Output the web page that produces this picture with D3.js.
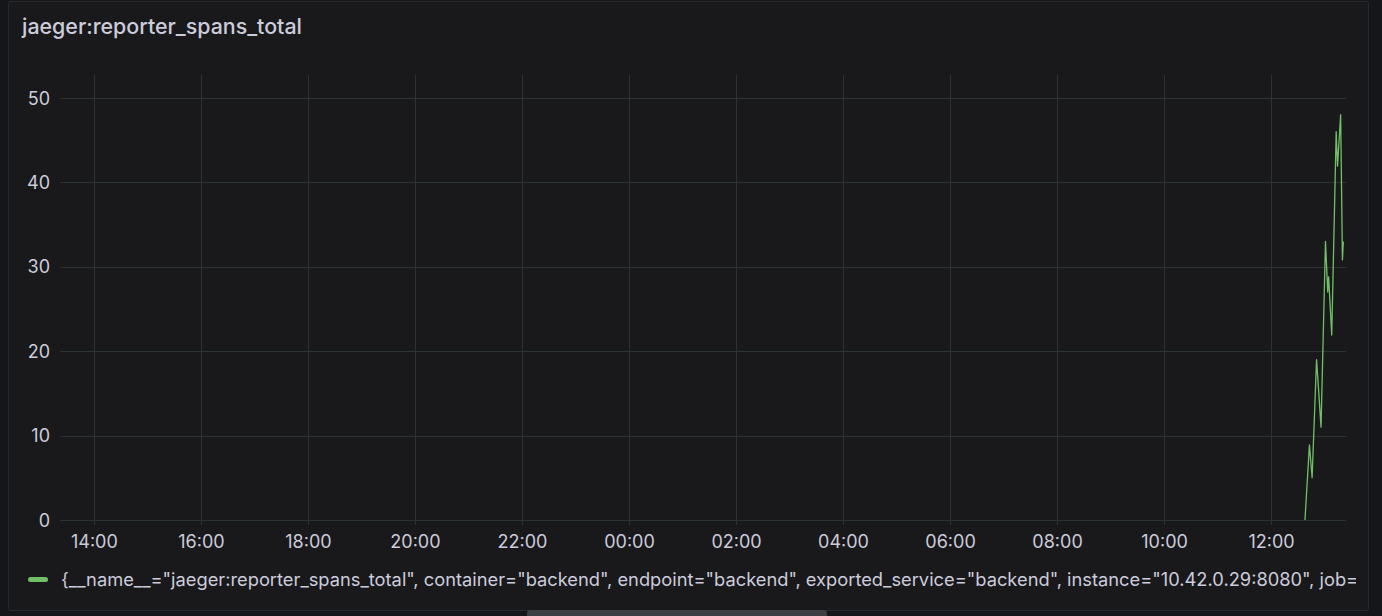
<!DOCTYPE html>
<html>
<head>
<meta charset="utf-8">
<script src="https://cdn.jsdelivr.net/npm/d3@7"></script>
<style>
  html, body { margin: 0; padding: 0; background: #141619; }
  svg { display: block; }
</style>
</head>
<body>
<svg id="chart" width="1382" height="616"></svg>
<script>
const title = "jaeger:reporter_spans_total";
const legendLabel = '{__name__="jaeger:reporter_spans_total", container="backend", endpoint="backend", exported_service="backend", instance="10.42.0.29:8080", job="backend", namespace="default", pod="backend", service="backend"}';
const domainStart = "2024-01-01T13:22:00";
const domainEnd = "2024-01-02T13:24:00";
const times = [
  "2024-01-02T12:38:00", "2024-01-02T12:43:00", "2024-01-02T12:46:00",
  "2024-01-02T12:51:00", "2024-01-02T12:56:00", "2024-01-02T13:01:00",
  "2024-01-02T13:03:30", "2024-01-02T13:04:30", "2024-01-02T13:08:00",
  "2024-01-02T13:13:00", "2024-01-02T13:14:30", "2024-01-02T13:18:00",
  "2024-01-02T13:20:00", "2024-01-02T13:21:00"
];
const values = [0, 8.9, 5, 19, 11, 33, 27, 28.8, 21.9, 46, 41.9, 48, 30.8, 33];
const yTicks = [0, 10, 20, 30, 40, 50];

const parse = d3.isoParse;
const data = times.map((t, i) => ({ t: parse(t), v: values[i] }));

const svg = d3.select("#chart");
const W = 1382, H = 616;
const font = "Inter, 'Noto Sans', sans-serif";

// outer background
svg.append("rect").attr("width", W).attr("height", H).attr("fill", "#141619");
// panel
svg.append("rect")
  .attr("x", 8.5).attr("y", 1.5).attr("width", 1360).attr("height", 609)
  .attr("rx", 2)
  .attr("fill", "#19191b").attr("stroke", "#262a2e").attr("stroke-width", 1);

// title
svg.append("text")
  .attr("x", 22).attr("y", 34)
  .attr("fill", "#ccccdc")
  .attr("font-family", font)
  .attr("font-size", 21.4).attr("font-weight", 500)
  .text(title);

const plot = { left: 60, right: 1346, top: 75, bottom: 520 };

const x = d3.scaleTime()
  .domain([parse(domainStart), parse(domainEnd)])
  .range([plot.left, plot.right]);
const y = d3.scaleLinear()
  .domain([0, 52.7])
  .range([plot.bottom, plot.top]);

const gridColor = "#2b3430";

// vertical grid
const xTicks = x.ticks(d3.timeHour.every(2));
svg.append("g")
  .selectAll("line").data(xTicks).join("line")
  .attr("x1", d => Math.round(x(d)) + 0.5).attr("x2", d => Math.round(x(d)) + 0.5)
  .attr("y1", plot.top).attr("y2", plot.bottom + 5)
  .attr("stroke", gridColor).attr("stroke-width", 1);

// horizontal grid
svg.append("g")
  .selectAll("line").data(yTicks).join("line")
  .attr("x1", plot.left).attr("x2", plot.right)
  .attr("y1", d => Math.round(y(d)) + 0.5).attr("y2", d => Math.round(y(d)) + 0.5)
  .attr("stroke", gridColor).attr("stroke-width", 1);

// y axis
const yAxis = svg.append("g")
  .attr("transform", `translate(${plot.left - 10},0)`)
  .call(d3.axisLeft(y).tickValues(yTicks).tickSize(0).tickPadding(0).tickFormat(d3.format("d")));
yAxis.select(".domain").remove();
yAxis.selectAll("text")
  .attr("fill", "#ccccdc").attr("font-family", font).attr("font-size", 18)
  .attr("dy", "0.35em");

// x axis
const xAxis = svg.append("g")
  .attr("transform", `translate(0,${plot.bottom})`)
  .call(d3.axisBottom(x).tickValues(xTicks).tickSize(0).tickPadding(0).tickFormat(d3.timeFormat("%H:%M")));
xAxis.select(".domain").remove();
xAxis.selectAll("text")
  .attr("fill", "#ccccdc").attr("font-family", font).attr("font-size", 18)
  .attr("dy", 0).attr("y", 28);

// series line
const line = d3.line().x(d => x(d.t)).y(d => y(d.v)).curve(d3.curveLinear);
svg.append("path")
  .datum(data)
  .attr("d", line)
  .attr("fill", "none")
  .attr("stroke", "#73bf69")
  .attr("stroke-width", 1.3)
  .attr("stroke-linejoin", "round");

// legend (long label, truncated by the panel edge as in the original)
svg.append("defs").append("clipPath").attr("id", "legclip")
  .append("rect").attr("x", 0).attr("y", 560).attr("width", 1356).attr("height", 40);
svg.append("rect")
  .attr("x", 28).attr("y", 577).attr("width", 20).attr("height", 5).attr("rx", 2.5)
  .attr("fill", "#73bf69");
svg.append("text")
  .attr("clip-path", "url(#legclip)")
  .attr("x", 61).attr("y", 586)
  .attr("fill", "#ccccdc")
  .attr("font-family", font).attr("font-size", 18.3)
  .text(legendLabel);

// scrollbar
svg.append("rect")
  .attr("x", 527).attr("y", 610).attr("width", 300).attr("height", 8).attr("rx", 3)
  .attr("fill", "#3b3e43");
</script>
</body>
</html>
